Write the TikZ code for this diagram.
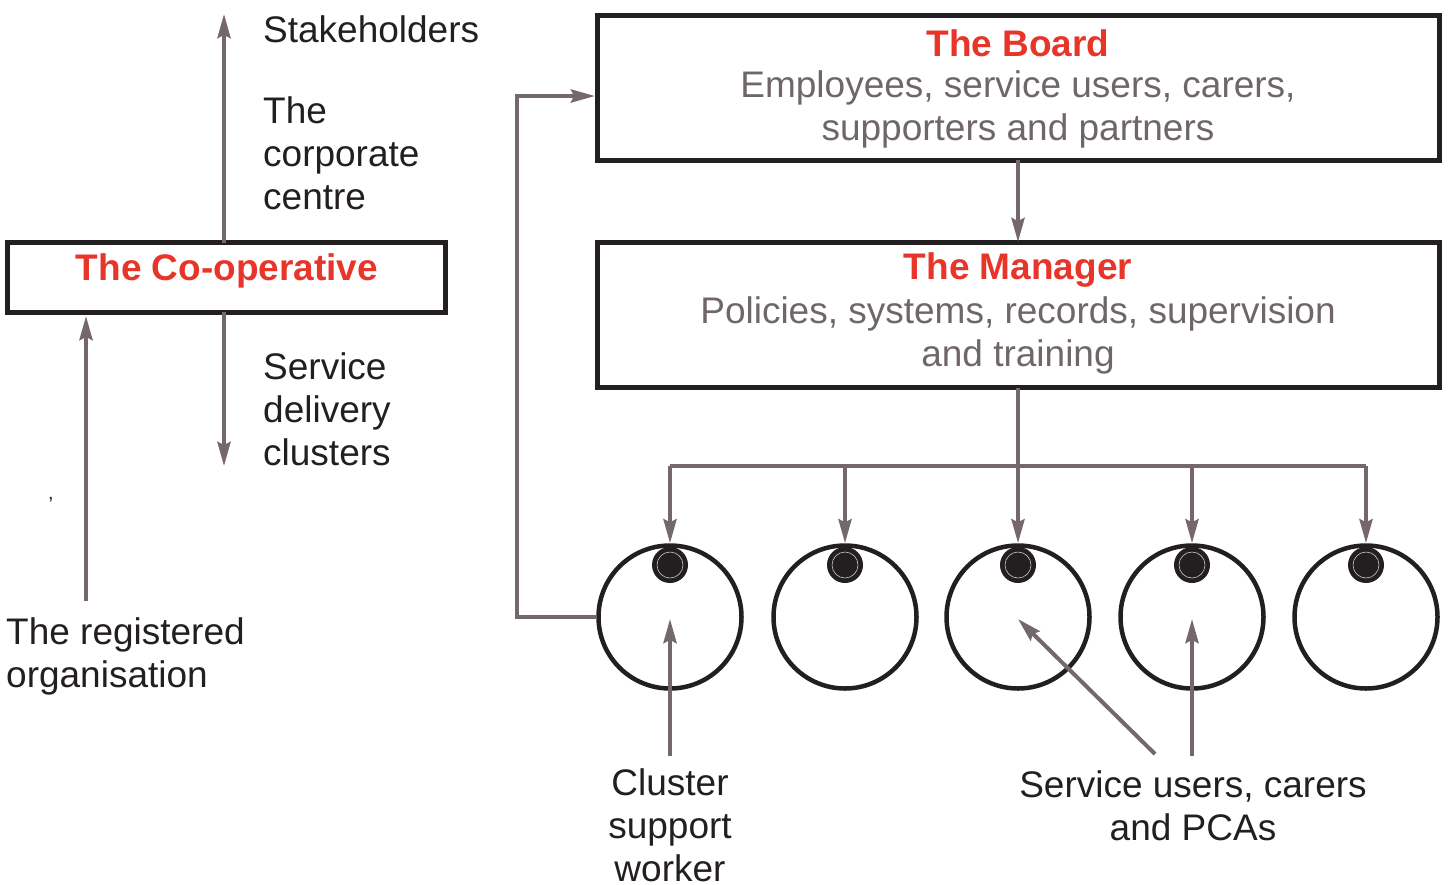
\documentclass[tikz,border=0pt]{standalone}
\usepackage{fontspec}
\setmainfont{Liberation Sans}
\usetikzlibrary{arrows.meta}
\definecolor{conn}{HTML}{75686A}
\definecolor{redt}{HTML}{E8352A}
\definecolor{greyt}{HTML}{6F6767}
\definecolor{ink}{HTML}{231F20}
\tikzset{
  box/.style={draw=ink,line width=5pt,inner sep=0pt},
  conn/.style={draw=conn,line width=4pt},
  arr/.style={conn,-{Stealth[length=24pt,width=13pt,inset=3pt]}},
  circ/.style={draw=ink,line width=4.5pt,circle,minimum size=143pt,inner sep=0pt},
  dot/.style={fill=ink,circle,minimum size=36pt,inner sep=0pt},
  lab/.style={font=\fontsize{37}{43}\selectfont,text=ink,inner sep=0pt},
  ttl/.style={font=\fontsize{37}{43}\selectfont\bfseries,text=redt,inner sep=0pt},
  desc/.style={font=\fontsize{37}{43}\selectfont,text=greyt,inner sep=0pt},
}
\begin{document}
\begin{tikzpicture}[x=1pt,y=-1pt]
\useasboundingbox (0,0) rectangle (1453,884);
% Co-operative box
\node[box,minimum width=438pt,minimum height=70pt] (coopbox) at (226.5,277.5) {};
\coordinate (coopTop) at (224,243);
\coordinate (coopBot) at (224,312);
\coordinate (coopBotL) at (86,316);
\node[ttl] (coop) at (227,271) {The Co-operative};
\coordinate (stakeTip) at (224,14);
\coordinate (servTip) at (224,466);
\coordinate (regStart) at (86,601);
\draw[arr] (coopTop) -- (stakeTip);
\draw[arr] (coopBot) -- (servTip);
\draw[arr] (regStart) -- (coopBotL);
\node[lab,anchor=west] (stake) at (263,29) {Stakeholders};
\node[lab,anchor=north west,align=left] (corp) at (263,96) {The\\corporate\\centre};
\node[lab,anchor=north west,align=left] (serv) at (263,352) {Service\\delivery\\clusters};
\node[lab,anchor=north west,align=left] (reg) at (6,617) {The registered\\organisation};
\node[text=ink,inner sep=0pt,font=\fontsize{20}{20}\selectfont] (tick) at (51,500) {,};
% Board
\node[box,minimum width=842pt,minimum height=145pt] (board) at (1018.5,88) {};
\node[ttl] (boardT) at (1018,43) {The Board};
\node[desc,align=center] (boardD) at (1018,109) {Employees, service users, carers,\\supporters and partners};
% Manager
\node[box,minimum width=842pt,minimum height=145pt] (mgr) at (1018.5,315) {};
\node[ttl] (mgrT) at (1018,270) {The Manager};
\node[desc,align=center] (mgrD) at (1018,335) {Policies, systems, records, supervision\\and training};
\coordinate (boardS) at (1018,160);
\coordinate (mgrN) at (1018,242);
\coordinate (mgrS) at (1018,388);
\draw[arr] (boardS) -- (mgrN);
% circles
\foreach \i/\x in {1/670,2/845,3/1018,4/1192,5/1366}{
  \node[circ] (c\i) at (\x,617) {};
  \node[dot] (d\i) at (\x,565) {};
  \draw[white!75!ink,line width=0.6pt] (d\i) circle (13pt);
  \coordinate (b\i) at (\x,466);
  \draw[arr] (b\i) -- (c\i.north);
}
\draw[conn] (b1) -- (b5);
\draw[conn] (mgrS) -- (b3);
% feedback loop
\coordinate (fb1) at (517,617);
\coordinate (fb2) at (517,96);
\coordinate (boardL) at (595,96);
\draw[conn,-{Stealth[length=24pt,width=13pt,inset=3pt]},line join=miter] (c1.west) -- (fb1) -- (fb2) -- (boardL);
% bottom labels
\node[lab,align=center,anchor=north] (csw) at (670,768) {Cluster\\support\\worker};
\node[lab,align=center,anchor=north] (su) at (1193,770) {Service users, carers\\and PCAs};
\coordinate (cswS) at (670,756);
\coordinate (cswT) at (670,619);
\coordinate (suA) at (1155,754);
\coordinate (suAT) at (1018,619);
\coordinate (suB) at (1192,756);
\coordinate (suBT) at (1192,619);
\draw[arr] (cswS) -- (cswT);
\draw[arr] (suA) -- (suAT);
\draw[arr] (suB) -- (suBT);
\end{tikzpicture}
\end{document}
